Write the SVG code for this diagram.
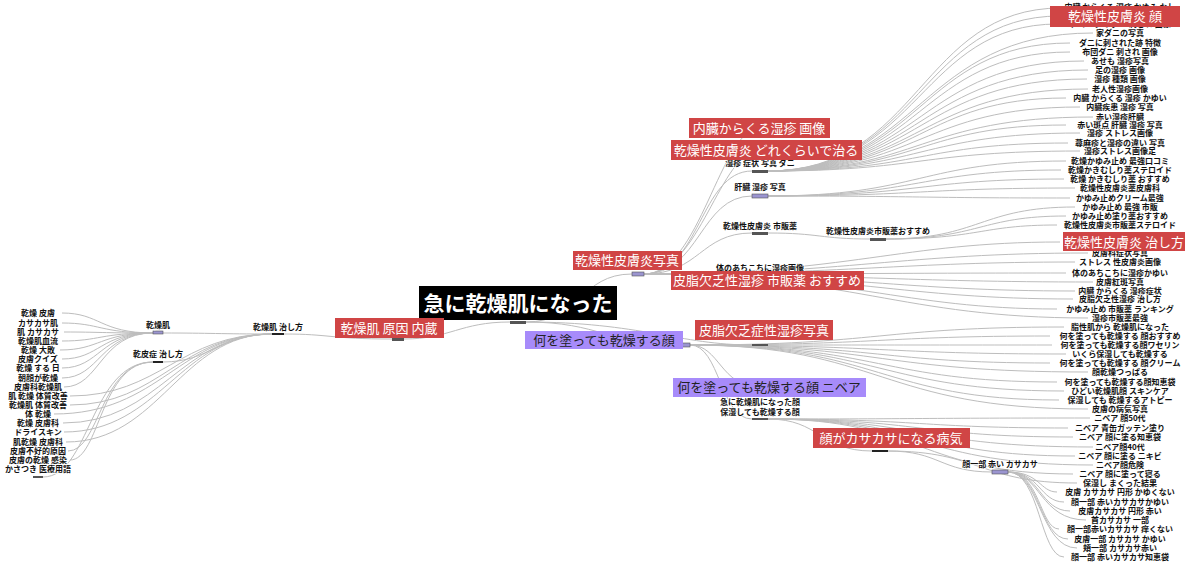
<svg xmlns="http://www.w3.org/2000/svg" width="1200" height="564" viewBox="0 0 1200 564">
<style>
.c path{fill:none;stroke:#bdbdbd;stroke-width:1}
text{font-family:"Noto Sans CJK JP","Noto Sans",sans-serif}
.t{font-size:8px;font-weight:bold;fill:#111;text-anchor:middle;stroke:#fff;stroke-width:1.5;paint-order:stroke}
.rl rect{fill:#d04545}
.rl text,.pl text{font-size:13px;fill:#fff;text-anchor:middle}
.pl rect{fill:#a78bfa}
.pl text{fill:#222}
.bg{fill:#555}.bp{fill:#9b95d0;stroke:#555;stroke-width:.6}.bk{fill:#222}
</style>
<rect width="1200" height="564" fill="#fff"/>
<g class="c">
<path d="M526 322 C580 322 580 274 632 274"/>
<path d="M526 322 C600 322 610 345 676 345"/>
<path d="M510 322 C460 322 450 339 404 339"/>
<path d="M526 322 C640 322 680 345 752 345"/>
<path d="M392 339 C330 339 330 334 284 334"/>
<path d="M272 334 C220 334 210 333 163 333"/>
<path d="M272 334 C220 334 210 362 163 362"/>
<path d="M153 333 C100 333 100 313 62 313"/>
<path d="M153 333 C100 333 100 323 62 323"/>
<path d="M153 333 C100 333 100 332 64 332"/>
<path d="M153 333 C100 333 100 341 62 341"/>
<path d="M153 333 C100 333 100 350 60 350"/>
<path d="M153 333 C100 333 100 359 62 359"/>
<path d="M153 333 C100 333 100 368 62 368"/>
<path d="M153 333 C100 333 100 378 62 378"/>
<path d="M153 333 C100 333 100 387 64 387"/>
<path d="M272 334 C180 334 160 396 70 396"/>
<path d="M272 334 C180 334 160 405 70 405"/>
<path d="M272 334 C180 334 160 414 54 414"/>
<path d="M272 334 C180 334 160 423 63 423"/>
<path d="M272 334 C180 334 160 432 64 432"/>
<path d="M272 334 C180 334 160 442 66 442"/>
<path d="M153 362 C100 362 100 451 68 451"/>
<path d="M153 362 C100 362 100 460 70 460"/>
<path d="M153 362 C90 362 90 477 43 477"/>
<path d="M644 274 C700 274 700 171 752 171"/>
<path d="M644 274 C700 274 700 196 752 196"/>
<path d="M644 274 C700 274 700 233 752 233"/>
<path d="M644 274 C700 274 720 128 760 128"/>
<path d="M644 274 C700 274 720 150 760 150"/>
<path d="M644 274 C700 274 720 276 760 276"/>
<path d="M768 233 C820 233 820 239 870 239"/>
<path d="M644 274 C850 274 900 253 1088 253"/>
<path d="M644 274 C850 274 900 262 1075 262"/>
<path d="M644 274 C850 274 900 273 1066 273"/>
<path d="M644 274 C850 274 900 282 1093 282"/>
<path d="M644 274 C850 274 900 291 1075 291"/>
<path d="M644 274 C850 274 900 299 1073 299"/>
<path d="M644 274 C850 274 900 309 1057 309"/>
<path d="M644 274 C850 274 900 318 1088 318"/>
<path d="M644 274 C850 274 900 242 1060 242"/>
<path d="M768 171 C920 171 920 8 1061 8"/>
<path d="M768 171 C920 171 920 24 1058 24"/>
<path d="M768 171 C920 171 920 33 1093 33"/>
<path d="M768 171 C920 171 920 43 1070 43"/>
<path d="M768 171 C920 171 920 52 1070 52"/>
<path d="M768 171 C920 171 920 61 1084 61"/>
<path d="M768 171 C920 171 920 70 1088 70"/>
<path d="M768 171 C920 171 920 79 1087 79"/>
<path d="M768 171 C920 171 920 89 1088 89"/>
<path d="M768 171 C920 171 920 98 1066 98"/>
<path d="M768 171 C920 171 920 107 1080 107"/>
<path d="M768 171 C920 171 920 117 1093 117"/>
<path d="M768 171 C920 171 920 125 1066 125"/>
<path d="M768 171 C920 171 920 133 1080 133"/>
<path d="M768 171 C920 171 920 143 1068 143"/>
<path d="M768 171 C920 171 920 151 1080 151"/>
<path d="M768 171 C920 171 920 16 1060 16"/>
<path d="M768 196 C920 196 920 161 1066 161"/>
<path d="M768 196 C920 196 920 170 1061 170"/>
<path d="M768 196 C920 196 920 179 1064 179"/>
<path d="M768 196 C920 196 920 188 1075 188"/>
<path d="M768 196 C920 196 920 198 1070 198"/>
<path d="M886 239 C980 239 980 207 1075 207"/>
<path d="M886 239 C980 239 980 216 1066 216"/>
<path d="M886 239 C980 239 980 225 1057 225"/>
<path d="M690 345 C880 345 880 327 1064 327"/>
<path d="M690 345 C880 345 880 336 1050 336"/>
<path d="M690 345 C880 345 880 345 1052 345"/>
<path d="M690 345 C880 345 880 354 1066 354"/>
<path d="M690 345 C880 345 880 363 1050 363"/>
<path d="M690 345 C880 345 880 372 1088 372"/>
<path d="M690 345 C880 345 880 382 1057 382"/>
<path d="M690 345 C880 345 880 391 1064 391"/>
<path d="M690 345 C880 345 880 400 1059 400"/>
<path d="M690 345 C880 345 880 409 1088 409"/>
<path d="M690 345 C720 345 720 419 752 419"/>
<path d="M690 345 C720 345 720 387 760 387"/>
<path d="M768 419 C920 419 920 418 1090 418"/>
<path d="M768 419 C920 419 920 428 1068 428"/>
<path d="M768 419 C920 419 920 437 1073 437"/>
<path d="M768 419 C920 419 920 447 1093 447"/>
<path d="M768 419 C920 419 920 456 1075 456"/>
<path d="M768 419 C920 419 920 465 1093 465"/>
<path d="M768 419 C920 419 920 474 1073 474"/>
<path d="M768 419 C820 419 820 451 872 451"/>
<path d="M888 451 C980 451 980 483 1077 483"/>
<path d="M888 451 C940 451 940 472 992 472"/>
<path d="M1008 472 C1040 472 1040 492 1057 492"/>
<path d="M1008 472 C1040 472 1040 502 1064 502"/>
<path d="M1008 472 C1040 472 1040 511 1070 511"/>
<path d="M1008 472 C1040 472 1040 520 1086 520"/>
<path d="M1008 472 C1040 472 1040 529 1059 529"/>
<path d="M1008 472 C1040 472 1040 539 1068 539"/>
<path d="M1008 472 C1040 472 1040 548 1077 548"/>
<path d="M1008 472 C1040 472 1040 557 1064 557"/>
</g>
<g id="bars">
<rect class="bg" x="510" y="321" width="16" height="3"/>
<rect class="bg" x="392" y="337" width="12" height="4"/>
<rect class="bk" x="272" y="333" width="12" height="2"/>
<rect class="bp" x="153" y="331" width="10" height="3"/>
<rect class="bk" x="153" y="361" width="10" height="2"/>
<rect class="bg" x="33" y="476" width="10" height="2"/>
<rect class="bp" x="632" y="272" width="12" height="4"/>
<rect class="bg" x="752" y="170" width="16" height="3"/>
<rect class="bp" x="752" y="194" width="16" height="4"/>
<rect class="bg" x="752" y="232" width="16" height="3"/>
<rect class="bg" x="870" y="238" width="16" height="3"/>
<rect class="bp" x="676" y="343" width="14" height="4"/>
<rect class="bg" x="752" y="344" width="16" height="2"/>
<rect class="bg" x="752" y="418" width="16" height="2"/>
<rect class="bk" x="872" y="450" width="16" height="2"/>
<rect class="bp" x="992" y="470" width="16" height="4"/>
</g>
<g id="leaves-right">
<text class="t" x="1120" y="10">内臓 からくる 湿疹 かゆみ なし</text>
<text class="t" x="1120" y="27">トコジラミ ダニ 刺され 画像</text>
<text class="t" x="1120" y="36">家ダニの写真</text>
<text class="t" x="1120" y="46">ダニに刺された跡 特徴</text>
<text class="t" x="1120" y="55">布団ダニ 刺され 画像</text>
<text class="t" x="1120" y="64">あせも 湿疹写真</text>
<text class="t" x="1120" y="73">足の湿疹 画像</text>
<text class="t" x="1120" y="82">湿疹 種類 画像</text>
<text class="t" x="1120" y="92">老人性湿疹画像</text>
<text class="t" x="1120" y="101">内臓 からくる 湿疹 かゆい</text>
<text class="t" x="1120" y="110">内臓疾患 湿疹 写真</text>
<text class="t" x="1120" y="120">赤い湿疹肝臓</text>
<text class="t" x="1120" y="128">赤い斑点 肝臓 湿疹 写真</text>
<text class="t" x="1120" y="136">湿疹 ストレス画像</text>
<text class="t" x="1120" y="146">蕁麻疹と湿疹の違い 写真</text>
<text class="t" x="1120" y="154">湿疹ストレス画像足</text>
<text class="t" x="1120" y="164">乾燥かゆみ止め 最強口コミ</text>
<text class="t" x="1120" y="173">乾燥かきむしり薬ステロイド</text>
<text class="t" x="1120" y="182">乾燥 かきむしり薬 おすすめ</text>
<text class="t" x="1120" y="191">乾燥性皮膚炎薬皮膚科</text>
<text class="t" x="1120" y="201">かゆみ止めクリーム最強</text>
<text class="t" x="1120" y="210">かゆみ止め 最強 市販</text>
<text class="t" x="1120" y="219">かゆみ止め塗り薬おすすめ</text>
<text class="t" x="1120" y="228">乾燥性皮膚炎市販薬ステロイド</text>
<text class="t" x="1120" y="256">皮膚科症状写真</text>
<text class="t" x="1120" y="265">ストレス 性皮膚炎画像</text>
<text class="t" x="1120" y="276">体のあちこちに湿疹かゆい</text>
<text class="t" x="1120" y="285">皮膚紅斑写真</text>
<text class="t" x="1120" y="294">内臓 からくる 湿疹症状</text>
<text class="t" x="1120" y="302">皮脂欠乏性湿疹 治し方</text>
<text class="t" x="1120" y="312">かゆみ止め 市販薬 ランキング</text>
<text class="t" x="1120" y="321">湿疹市販薬最強</text>
<text class="t" x="1120" y="330">脂性肌から 乾燥肌になった</text>
<text class="t" x="1120" y="339">何を塗っても乾燥する 顔おすすめ</text>
<text class="t" x="1120" y="348">何を塗っても乾燥する顔ワセリン</text>
<text class="t" x="1120" y="357">いくら保湿しても乾燥する</text>
<text class="t" x="1120" y="366">何を塗っても乾燥する 顔クリーム</text>
<text class="t" x="1120" y="375">顔乾燥つっぱる</text>
<text class="t" x="1120" y="385">何を塗っても乾燥する顔知恵袋</text>
<text class="t" x="1120" y="394">ひどい乾燥肌顔 スキンケア</text>
<text class="t" x="1120" y="403">保湿しても 乾燥するアトピー</text>
<text class="t" x="1120" y="412">皮膚の病気写真</text>
<text class="t" x="1120" y="421">ニベア 顔50代</text>
<text class="t" x="1120" y="431">ニベア 青缶ガッテン塗り</text>
<text class="t" x="1120" y="440">ニベア 顔に塗る知恵袋</text>
<text class="t" x="1120" y="450">ニベア顔40代</text>
<text class="t" x="1120" y="459">ニベア 顔に塗る ニキビ</text>
<text class="t" x="1120" y="468">ニベア顔危険</text>
<text class="t" x="1120" y="477">ニベア 顔に塗って寝る</text>
<text class="t" x="1120" y="486">保湿し まくった結果</text>
<text class="t" x="1120" y="495">皮膚 カサカサ 円形 かゆくない</text>
<text class="t" x="1120" y="505">顔一部 赤いカサカサかゆい</text>
<text class="t" x="1120" y="514">皮膚カサカサ 円形 赤い</text>
<text class="t" x="1120" y="523">首カサカサ 一部</text>
<text class="t" x="1120" y="532">顔一部赤いカサカサ 痒くない</text>
<text class="t" x="1120" y="542">皮膚一部 カサカサ かゆい</text>
<text class="t" x="1120" y="551">頬一部 カサカサ赤い</text>
<text class="t" x="1120" y="560">顔一部 赤いカサカサ知恵袋</text>
</g>
<g id="leaves-left">
<text class="t" x="38" y="316">乾燥 皮膚</text>
<text class="t" x="38" y="326">カサカサ肌</text>
<text class="t" x="38" y="335">肌 カサカサ</text>
<text class="t" x="38" y="344">乾燥肌血流</text>
<text class="t" x="38" y="353">乾燥 大敗</text>
<text class="t" x="38" y="362">皮膚クイズ</text>
<text class="t" x="38" y="371">乾燥 する 日</text>
<text class="t" x="38" y="381">朝顔が乾燥</text>
<text class="t" x="38" y="390">皮膚科乾燥肌</text>
<text class="t" x="38" y="399">肌 乾燥 体質改善</text>
<text class="t" x="38" y="408">乾燥肌 体質改善</text>
<text class="t" x="38" y="417">体 乾燥</text>
<text class="t" x="38" y="426">乾燥 皮膚科</text>
<text class="t" x="38" y="435">ドライスキン</text>
<text class="t" x="38" y="445">肌乾燥 皮膚科</text>
<text class="t" x="38" y="454">皮膚不好的原因</text>
<text class="t" x="38" y="463">皮膚の乾燥 感染</text>
<text class="t" x="38" y="472">かさつき 医療用語</text>
</g>
<g id="mid-nodes">
<text class="t" x="158" y="328">乾燥肌</text>
<text class="t" x="158" y="357">乾皮症 治し方</text>
<text class="t" x="278" y="330">乾燥肌 治し方</text>
<text class="t" x="760" y="166">湿疹 症状 写真 ダニ</text>
<text class="t" x="760" y="190">肝臓 湿疹 写真</text>
<text class="t" x="760" y="229">乾燥性皮膚炎 市販薬</text>
<text class="t" x="878" y="234">乾燥性皮膚炎市販薬おすすめ</text>
<text class="t" x="760" y="271">体のあちこちに湿疹画像</text>
<text class="t" x="760" y="405">急に乾燥肌になった顔</text>
<text class="t" x="760" y="415">保湿しても乾燥する顔</text>
<text class="t" x="1000" y="467">顔一部 赤い カサカサ</text>
</g>
<g id="root"><rect x="419" y="286" width="198" height="34" fill="#000"/><text x="518" y="311" font-size="21" font-weight="bold" fill="#fff" text-anchor="middle">急に乾燥肌になった</text></g>
<g id="n-naizou" class="rl"><rect x="335" y="318" width="109" height="20"/><text x="389" y="333">乾燥肌 原因 内蔵</text></g>
<g id="n-photo" class="rl"><rect x="573" y="251" width="109" height="19"/><text x="627" y="265">乾燥性皮膚炎写真</text></g>
<g id="n-face" class="pl"><rect x="525" y="331" width="158" height="18"/><text x="604" y="345">何を塗っても乾燥する顔</text></g>
<g id="n-naizou2" class="rl"><rect x="689" y="118" width="141" height="20"/><text x="759" y="133">内臓からくる湿疹 画像</text></g>
<g id="n-dore" class="rl"><rect x="671" y="140" width="191" height="20"/><text x="766" y="155">乾燥性皮膚炎 どれくらいで治る</text></g>
<g id="n-hishi" class="rl"><rect x="671" y="271" width="193" height="19"/><text x="767" y="285">皮脂欠乏性湿疹 市販薬 おすすめ</text></g>
<g id="n-hishi2" class="rl"><rect x="695" y="320" width="138" height="20"/><text x="764" y="335">皮脂欠乏症性湿疹写真</text></g>
<g id="n-nivea" class="pl"><rect x="673" y="378" width="193" height="19"/><text x="769" y="392">何を塗っても乾燥する顔 ニベア</text></g>
<g id="n-kasa" class="rl"><rect x="813" y="428" width="157" height="20"/><text x="891" y="443">顔がカサカサになる病気</text></g>
<g id="n-kao" class="rl"><rect x="1050" y="6" width="130" height="21"/><text x="1115" y="21">乾燥性皮膚炎 顔</text></g>
<g id="n-naoshi" class="rl"><rect x="1063" y="232" width="122" height="19"/><text x="1124" y="247">乾燥性皮膚炎 治し方</text></g>
</svg>
